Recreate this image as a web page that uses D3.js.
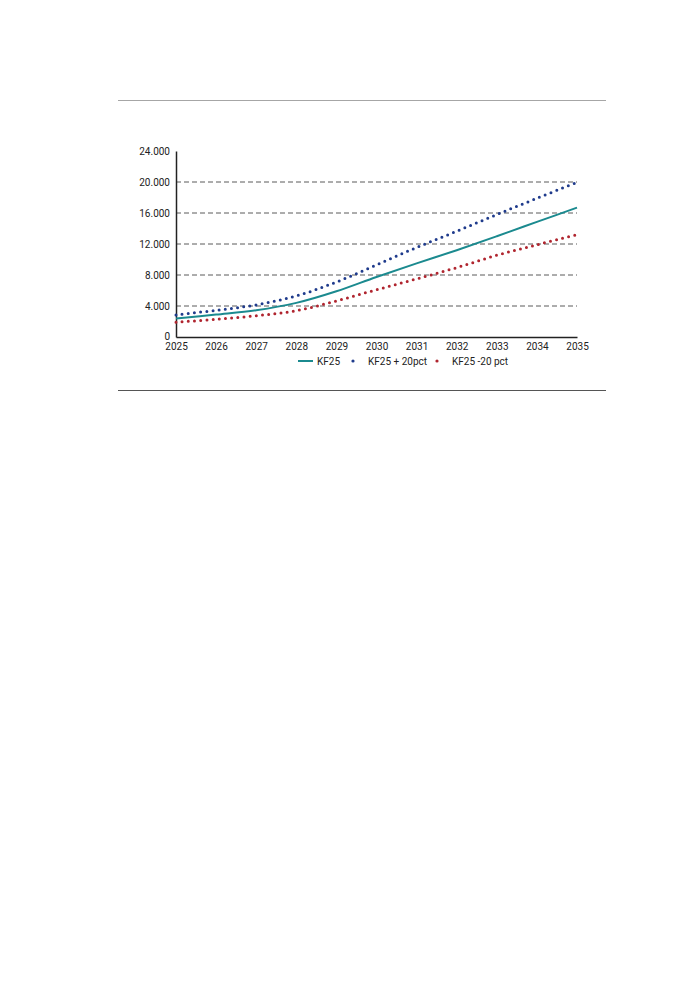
<!DOCTYPE html>
<html><head><meta charset="utf-8">
<script src="https://cdn.jsdelivr.net/npm/d3@7"></script>
<style>body{margin:0;background:#fff}svg{display:block;font-family:Roboto,sans-serif}</style>
</head><body><svg id="c" width="693" height="985"></svg>
<script>
const years = [2025,2026,2027,2028,2029,2030,2031,2032,2033,2034,2035];
const kf25 = [2400,2900,3450,4400,5900,7750,9500,11200,13000,14850,16700];
const kfPlus = [2850,3450,4150,5300,7100,9300,11550,13650,15800,17900,19950];
const kfMinus = [1900,2300,2750,3400,4650,6100,7500,8950,10550,11900,13200];
const yTicks = [0,4000,8000,12000,16000,20000,24000];
const seriesNames = ["KF25","KF25 + 20pct","KF25 -20 pct"];
const colors = ["#1b8a8f","#1f3b8c","#b0252f"];

const svg = d3.select("#c");
const x = d3.scaleLinear().domain([2025,2035]).range([176,577]);
const y = d3.scaleLinear().domain([0,24000]).range([337,151]);
const fmt = v => d3.format(",")(v).replace(/,/g,".");

// rules
svg.append("line").attr("x1",118).attr("x2",606).attr("y1",100.5).attr("y2",100.5).attr("stroke","#a6a6a6").attr("stroke-width",1);
svg.append("line").attr("x1",118).attr("x2",606).attr("y1",390.5).attr("y2",390.5).attr("stroke","#555").attr("stroke-width",1);

// grid
svg.append("g").selectAll("line").data(yTicks.filter(d=>d>0 && d<24000)).join("line")
  .attr("x1",176).attr("x2",577).attr("y1",d=>y(d)).attr("y2",d=>y(d))
  .attr("stroke","#5a5a5a").attr("stroke-width",1).attr("stroke-dasharray","5,3");

// axes
const ya = svg.append("g").attr("transform","translate(176,0)")
  .call(d3.axisLeft(y).tickValues(yTicks).tickFormat(fmt).tickSize(0).tickPadding(6));
ya.select(".domain").attr("stroke","#222").attr("stroke-width",1.5);
ya.selectAll("text").attr("font-size",10).attr("fill","#222").attr("font-family","Roboto");
ya.selectAll(".tick").filter(d=>d===0).select("text").attr("dy","0.2em");

const xa = svg.append("g").attr("transform","translate(0,337)")
  .call(d3.axisBottom(x).tickValues(years).tickFormat(d3.format("d")).tickSize(0).tickPadding(6));
xa.select(".domain").attr("stroke","#222").attr("stroke-width",1.5);
xa.selectAll("text").attr("font-size",10).attr("fill","#222").attr("font-family","Roboto");

// lines
const line = d3.line().x((d,i)=>x(years[i])).y(d=>y(d)).curve(d3.curveCatmullRom.alpha(0.5));
svg.append("path").datum(kf25).attr("d",line).attr("fill","none").attr("stroke",colors[0]).attr("stroke-width",2);
svg.append("path").datum(kfPlus).attr("d",line).attr("fill","none").attr("stroke",colors[1]).attr("stroke-width",3)
  .attr("stroke-linecap","round").attr("stroke-dasharray","0,6.2");
svg.append("path").datum(kfMinus).attr("d",line).attr("fill","none").attr("stroke",colors[2]).attr("stroke-width",3)
  .attr("stroke-linecap","round").attr("stroke-dasharray","0,6.2");

// legend
const lg = svg.append("g").attr("font-size",10).attr("fill","#222");
lg.append("line").attr("x1",298).attr("x2",313).attr("y1",361).attr("y2",361).attr("stroke",colors[0]).attr("stroke-width",2);
lg.append("text").attr("x",317).attr("y",364.5).text(seriesNames[0]);
lg.append("circle").attr("cx",353).attr("cy",361).attr("r",1.6).attr("fill",colors[1]);
lg.append("text").attr("x",368).attr("y",364.5).text(seriesNames[1]);
lg.append("circle").attr("cx",437).attr("cy",361).attr("r",1.6).attr("fill",colors[2]);
lg.append("text").attr("x",452).attr("y",364.5).text(seriesNames[2]);
</script></body></html>
